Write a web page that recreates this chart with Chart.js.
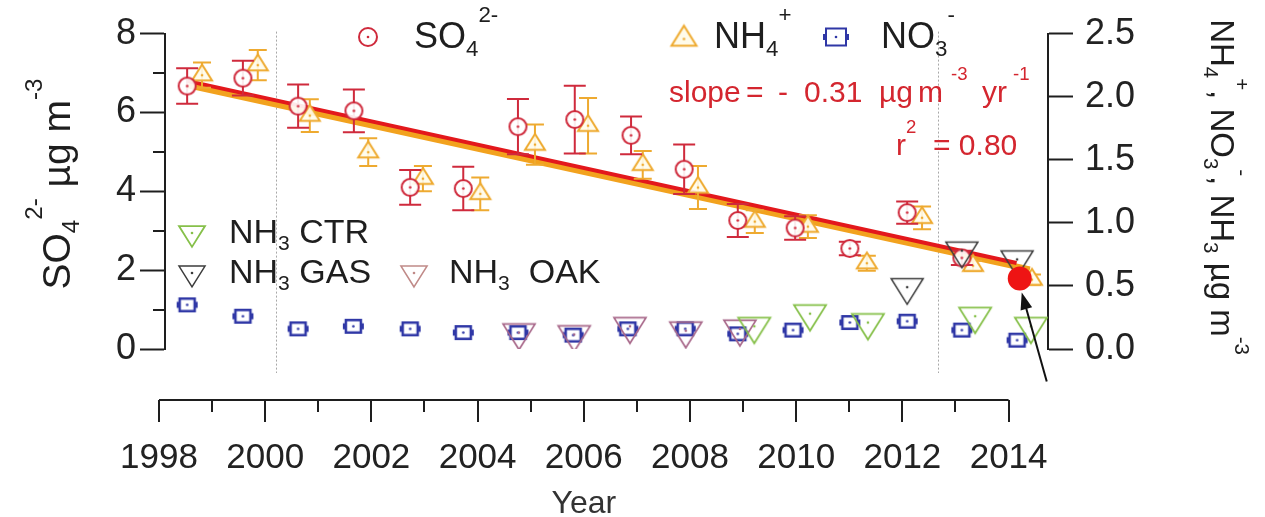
<!DOCTYPE html>
<html>
<head>
<meta charset="utf-8">
<script src="https://cdn.jsdelivr.net/npm/chart.js@4.4.1/dist/chart.umd.min.js"></script>
<style>
  html, body { margin: 0; padding: 0; background: #fff; }
</style>
</head>
<body>
<canvas id="trend" width="1265" height="517"></canvas>
<script>
const FONT = '"Liberation Sans", Arial, sans-serif';

// SO4 (left axis, ug/m3)
const so4Years = [1998.53, 1999.58, 2000.62, 2001.67, 2002.73, 2003.73, 2004.76, 2005.83, 2006.89, 2007.89, 2008.90, 2009.98, 2011.01, 2012.09, 2013.12];
const so4Values = [6.67, 6.87, 6.16, 6.04, 4.10, 4.07, 5.64, 5.82, 5.42, 4.56, 3.26, 3.07, 2.55, 3.46, 2.31];
const so4Err = [0.45, 0.44, 0.55, 0.54, 0.44, 0.55, 0.70, 0.86, 0.48, 0.63, 0.42, 0.30, 0.17, 0.28, 0.18];
// latest SO4 value, highlighted
const so4LastYear = 2014.21;
const so4LastValue = 1.79;

// NH4 (right axis)
const nh4Years = [1998.81, 1999.86, 2000.84, 2001.94, 2002.97, 2004.05, 2005.08, 2006.08, 2007.11, 2008.15, 2009.22, 2010.22, 2011.33, 2012.37, 2013.33, 2014.44];
const nh4Values = [2.17, 2.25, 1.85, 1.56, 1.35, 1.23, 1.62, 1.77, 1.46, 1.28, 1.01, 0.97, 0.68, 1.04, 0.66, 0.55];
const nh4Err = [0.10, 0.12, 0.13, 0.11, 0.10, 0.13, 0.16, 0.22, 0.11, 0.17, 0.09, 0.09, 0.06, 0.09, 0.04, 0.04];

// NO3 (right axis)
const no3Years = [1998.53, 1999.58, 2000.62, 2001.66, 2002.73, 2003.73, 2004.76, 2005.80, 2006.83, 2007.91, 2008.90, 2009.94, 2011.01, 2012.09, 2013.12, 2014.16];
const no3Values = [0.35, 0.26, 0.16, 0.18, 0.16, 0.13, 0.13, 0.11, 0.16, 0.16, 0.12, 0.15, 0.21, 0.22, 0.15, 0.07];

// NH3 at the three sites (right axis)
const oakYears = [2004.78, 2005.82, 2006.87, 2007.92, 2008.94];
const oakValues = [0.13, 0.115, 0.18, 0.145, 0.16];
const ctrYears = [2009.21, 2010.26, 2011.35, 2013.37, 2014.42];
const ctrValues = [0.18, 0.28, 0.21, 0.26, 0.18];
const gasYears = [2012.09, 2013.12, 2014.16];
const gasValues = [0.49, 0.78, 0.71];

// linear fits
const so4FitYears = [1998.53, 2014.15];
const so4FitValues = [6.80, 2.18];
const nh4FitYears = [1998.55, 2014.40];
const nh4FitValues = [2.09, 0.63];

// axes
const allYears = [1998, 1999, 2000, 2001, 2002, 2003, 2004, 2005, 2006, 2007, 2008, 2009, 2010, 2011, 2012, 2013, 2014];
const yearLabels = [1998, 2000, 2002, 2004, 2006, 2008, 2010, 2012, 2014];
const so4Minor = [1, 3, 5, 7];
const guideYears = [2000.2, 2012.67];

const RED = '#cf2a3c';
const ORANGE = '#eeaa30';
const BLUE = '#2f37a6';
const GREEN = '#86c04a';
const GREY = '#3c3c3c';
const OAK = '#a8688a';

function pts(xs, ys) {
  return xs.map((x, i) => ({ x: x, y: ys[i] }));
}

// small canvas markers: hollow shape with a dot in the middle
function marker(kind, color, w, lw, fill) {
  const c = document.createElement('canvas');
  const size = Math.ceil(w + 10);
  c.width = size; c.height = size;
  const g = c.getContext('2d');
  const m = size / 2;
  const h = w * 0.8;
  g.lineWidth = lw;
  g.strokeStyle = color;
  g.fillStyle = fill;
  g.beginPath();
  if (kind === 'circle') {
    g.arc(m, m, w / 2, 0, Math.PI * 2);
  } else if (kind === 'up') {
    g.moveTo(m, m - h * 2 / 3);
    g.lineTo(m + w / 2, m + h / 3);
    g.lineTo(m - w / 2, m + h / 3);
    g.closePath();
  } else if (kind === 'down') {
    g.moveTo(m, m + h * 2 / 3);
    g.lineTo(m + w / 2, m - h / 3);
    g.lineTo(m - w / 2, m - h / 3);
    g.closePath();
  } else if (kind === 'square') {
    g.rect(m - w / 2, m - w * 0.42, w, w * 0.84);
  }
  if (fill) g.fill();
  g.stroke();
  if (kind === 'square') {
    g.fillStyle = color;
    g.fillRect(m - w / 2 - 3, m - 3, 3, 6);
    g.fillRect(m + w / 2, m - 3, 3, 6);
  }
  g.beginPath();
  g.arc(m, m, 1.3, 0, Math.PI * 2);
  g.fillStyle = color;
  g.fill();
  return c;
}

const mkSo4 = marker('circle', RED, 17, 2, 'rgba(255,255,255,0.9)');
const mkNh4 = marker('up', ORANGE, 20, 2, 'rgba(255,252,235,0.9)');
const mkNo3 = marker('square', BLUE, 15, 2.5, 'rgba(255,255,255,0.9)');
const mkOak = marker('down', OAK, 32, 1.7, null);
const mkCtr = marker('down', GREEN, 32, 1.8, null);
const mkGas = marker('down', GREY, 32, 1.5, null);

// legend versions
const lgSo4 = marker('circle', RED, 18, 2, '#fff');
const lgNh4 = marker('up', ORANGE, 25, 2, '#fffbea');
const lgNo3 = marker('square', BLUE, 20, 2, '#fff');
const lgCtr = marker('down', GREEN, 26, 1.8, null);
const lgGas = marker('down', GREY, 26, 1.5, null);
const lgOak = marker('down', '#c08a88', 26, 1.6, null);

// text with sub/superscripts, parts = [[text, 'n'|'sub'|'sup'], ...]
function richWidth(ctx, parts, size) {
  let w = 0;
  for (const [t, k] of parts) {
    ctx.font = `${k === 'n' ? size : size * 0.62}px ${FONT}`;
    w += ctx.measureText(t).width;
  }
  return w;
}
function rich(ctx, parts, x, y, size) {
  let cx = x;
  for (const [t, k] of parts) {
    const s = k === 'n' ? size : size * 0.62;
    const dy = k === 'sub' ? size * 0.22 : k === 'sup' ? -size * 0.72 : 0;
    ctx.font = `${s}px ${FONT}`;
    ctx.fillText(t, cx, y + dy);
    cx += ctx.measureText(t).width;
  }
  return cx;
}

const decor = {
  id: 'decor',
  beforeDatasetsDraw(chart) {
    const { ctx, chartArea: a, scales: { x } } = chart;
    ctx.save();
    ctx.strokeStyle = '#a8a8a8';
    ctx.lineWidth = 1;
    ctx.setLineDash([2, 2]);
    for (const yr of guideYears) {
      const px = Math.round(x.getPixelForValue(yr)) + 0.5;
      ctx.beginPath();
      ctx.moveTo(px, a.top - 2);
      ctx.lineTo(px, a.bottom + 24);
      ctx.stroke();
    }
    ctx.restore();
  },
  beforeDatasetDraw(chart, args) {
    const ds = chart.data.datasets[args.index];
    if (!ds.errors) return;
    const { ctx } = chart;
    const xs = chart.scales.x;
    const ys = chart.scales[ds.yAxisID];
    ctx.save();
    ctx.strokeStyle = ds.errColor;
    ctx.lineWidth = 2;
    ds.data.forEach((d, i) => {
      const px = xs.getPixelForValue(d.x);
      const top = ys.getPixelForValue(d.y + ds.errors[i]);
      const bot = ys.getPixelForValue(d.y - ds.errors[i]);
      ctx.beginPath();
      ctx.moveTo(px, top); ctx.lineTo(px, bot);
      ctx.moveTo(px - ds.cap, top); ctx.lineTo(px + ds.cap, top);
      ctx.moveTo(px - ds.cap, bot); ctx.lineTo(px + ds.cap, bot);
      ctx.stroke();
    });
    ctx.restore();
  },
  afterDraw(chart) {
    const { ctx, chartArea: a, scales: { x, y } } = chart;
    ctx.save();
    ctx.strokeStyle = '#1e1e1e';
    ctx.fillStyle = '#1e1e1e';
    ctx.lineWidth = 2;

    // short ticks on the SO4 axis
    for (const v of so4Minor) {
      const py = Math.round(y.getPixelForValue(v));
      ctx.beginPath();
      ctx.moveTo(a.left - 12, py); ctx.lineTo(a.left, py);
      ctx.stroke();
    }

    // detached time axis
    const ay = a.bottom + 51;
    ctx.beginPath();
    ctx.moveTo(x.getPixelForValue(allYears[0]), ay);
    ctx.lineTo(x.getPixelForValue(allYears[allYears.length - 1]), ay);
    for (const yr of allYears) {
      const px = Math.round(x.getPixelForValue(yr));
      ctx.moveTo(px, ay);
      ctx.lineTo(px, ay + (yr % 2 === 0 ? 22 : 12));
    }
    ctx.stroke();

    ctx.textBaseline = 'alphabetic';
    ctx.textAlign = 'center';
    ctx.font = `32px ${FONT}`;
    ctx.fillStyle = '#333';
    ctx.fillText('Year', x.getPixelForValue(2006), 513);

    // legend
    ctx.textAlign = 'left';
    ctx.fillStyle = '#1e1e1e';
    const put = (img, cx, cy) => ctx.drawImage(img, cx - img.width / 2, cy - img.height / 2);
    put(lgSo4, 368, 37);
    rich(ctx, [['SO', 'n'], ['4', 'sub'], ['2-', 'sup']], 414, 48, 36);
    put(lgNh4, 684, 39);
    rich(ctx, [['NH', 'n'], ['4', 'sub'], ['+', 'sup']], 714, 48, 36);
    put(lgNo3, 836, 37);
    rich(ctx, [['NO', 'n'], ['3', 'sub'], ['-', 'sup']], 881, 48, 36);

    put(lgCtr, 192, 233);
    rich(ctx, [['NH', 'n'], ['3', 'sub'], [' CTR', 'n']], 229, 243, 34);
    put(lgGas, 192, 273);
    rich(ctx, [['NH', 'n'], ['3', 'sub'], [' GAS', 'n']], 229, 283, 34);
    put(lgOak, 414, 273);
    rich(ctx, [['NH', 'n'], ['3', 'sub'], ['  OAK', 'n']], 449, 283, 34);

    // fit statistics
    ctx.fillStyle = '#d4262f';
    const slopeParts = [['slope', 'n', 669], ['=', 'n', 746], ['-', 'n', 778], ['0.31', 'n', 804],
      ['\u00b5g', 'n', 879], ['m', 'n', 918], ['-3', 'sup', 951], ['yr', 'n', 982], ['-1', 'sup', 1013]];
    for (const [t, k, px] of slopeParts) rich(ctx, [[t, k]], px, 102, 30);
    rich(ctx, [['r', 'n'], ['2', 'sup'], ['  = 0.80', 'n']], 896, 155, 30);

    // arrow to the latest SO4 value
    const dx = x.getPixelForValue(so4LastYear);
    const dy = y.getPixelForValue(so4LastValue);
    const tip = [dx + 2, dy + 14];
    const tail = [dx + 27, dy + 103];
    const ang = Math.atan2(tip[1] - tail[1], tip[0] - tail[0]);
    ctx.strokeStyle = '#111';
    ctx.fillStyle = '#111';
    ctx.lineWidth = 2;
    ctx.beginPath();
    ctx.moveTo(tail[0], tail[1]);
    ctx.lineTo(tip[0] - 12 * Math.cos(ang), tip[1] - 12 * Math.sin(ang));
    ctx.stroke();
    ctx.beginPath();
    ctx.moveTo(tip[0], tip[1]);
    ctx.lineTo(tip[0] - 17 * Math.cos(ang) + 6 * Math.sin(ang), tip[1] - 17 * Math.sin(ang) - 6 * Math.cos(ang));
    ctx.lineTo(tip[0] - 17 * Math.cos(ang) - 6 * Math.sin(ang), tip[1] - 17 * Math.sin(ang) + 6 * Math.cos(ang));
    ctx.closePath();
    ctx.fill();

    // axis titles
    ctx.fillStyle = '#1e1e1e';
    const leftTitle = [['SO', 'n'], ['4', 'sub'], ['2-', 'sup'], [' \u00b5g m', 'n'], ['-3', 'sup']];
    ctx.save();
    ctx.translate(70, 184);
    ctx.rotate(-Math.PI / 2);
    rich(ctx, leftTitle, -richWidth(ctx, leftTitle, 39) / 2, 0, 39);
    ctx.restore();

    const rightTitle = [['NH', 'n'], ['4', 'sub'], ['+', 'sup'], [', NO', 'n'], ['3', 'sub'], ['-', 'sup'], [', NH', 'n'], ['3', 'sub'], [' \u00b5g m', 'n'], ['-3', 'sup']];
    ctx.save();
    ctx.translate(1211, 187);
    ctx.rotate(Math.PI / 2);
    rich(ctx, rightTitle, -richWidth(ctx, rightTitle, 33) / 2, 0, 33);
    ctx.restore();

    ctx.restore();
  }
};

Chart.defaults.font.family = FONT;
Chart.defaults.color = '#1e1e1e';

new Chart(document.getElementById('trend'), {
  type: 'scatter',
  data: {
    datasets: [
      { label: 'SO4 latest', data: [{ x: so4LastYear, y: so4LastValue }], yAxisID: 'y',
        pointStyle: 'circle', pointRadius: 12, backgroundColor: '#ee1414', borderWidth: 0 },
      { label: 'NH3 GAS', data: pts(gasYears, gasValues), yAxisID: 'y2', pointStyle: mkGas, pointRadius: 5 },
      { label: 'NH3 CTR', data: pts(ctrYears, ctrValues), yAxisID: 'y2', pointStyle: mkCtr, pointRadius: 5 },
      { label: 'NH3 OAK', data: pts(oakYears, oakValues), yAxisID: 'y2', pointStyle: mkOak, pointRadius: 5 },
      { label: 'NO3', data: pts(no3Years, no3Values), yAxisID: 'y2', pointStyle: mkNo3, pointRadius: 5 },
      { label: 'SO4', data: pts(so4Years, so4Values), yAxisID: 'y', pointStyle: mkSo4, pointRadius: 5,
        errors: so4Err, errColor: RED, cap: 11 },
      { label: 'NH4', data: pts(nh4Years, nh4Values), yAxisID: 'y2', pointStyle: mkNh4, pointRadius: 5,
        errors: nh4Err, errColor: ORANGE, cap: 9 },
      { label: 'SO4 fit', data: pts(so4FitYears, so4FitValues), yAxisID: 'y', showLine: true,
        pointRadius: 0, borderColor: '#e3181c', borderWidth: 4 },
      { label: 'NH4 fit', data: pts(nh4FitYears, nh4FitValues), yAxisID: 'y2', showLine: true,
        pointRadius: 0, borderColor: '#f2a21e', borderWidth: 6 }
    ]
  },
  options: {
    responsive: false,
    animation: false,
    devicePixelRatio: 1,
    events: [],
    layout: { padding: { top: 23, left: 0, right: 0, bottom: 0 } },
    plugins: { legend: { display: false }, tooltip: { enabled: false } },
    scales: {
      x: {
        type: 'linear',
        position: 'bottom',
        min: 1998.113,
        max: 2014.742,
        grid: { display: false, drawTicks: false },
        border: { display: false },
        afterBuildTicks: s => { s.ticks = yearLabels.map(v => ({ value: v })); },
        afterFit: s => { s.height = 168; },
        ticks: { autoSkip: false, maxRotation: 0, padding: 88, font: { size: 35 }, color: '#222',
          callback: v => String(v) }
      },
      y: {
        position: 'left',
        min: 0,
        max: 8,
        afterFit: s => { s.width = 165; },
        border: { display: true, color: '#1e1e1e', width: 2 },
        grid: { drawOnChartArea: false, tickLength: 25, tickWidth: 2, tickColor: '#1e1e1e' },
        ticks: { stepSize: 2, padding: 4, font: { size: 36 }, color: '#222' }
      },
      y2: {
        position: 'right',
        min: 0,
        max: 2.5,
        afterFit: s => { s.width = 217; },
        border: { display: true, color: '#1e1e1e', width: 2 },
        grid: { drawOnChartArea: false, tickLength: 25, tickWidth: 2, tickColor: '#1e1e1e' },
        ticks: { stepSize: 0.5, padding: 12, font: { size: 36 }, color: '#222',
          callback: v => v.toFixed(1) }
      }
    }
  },
  plugins: [decor]
});
</script>
</body>
</html>
